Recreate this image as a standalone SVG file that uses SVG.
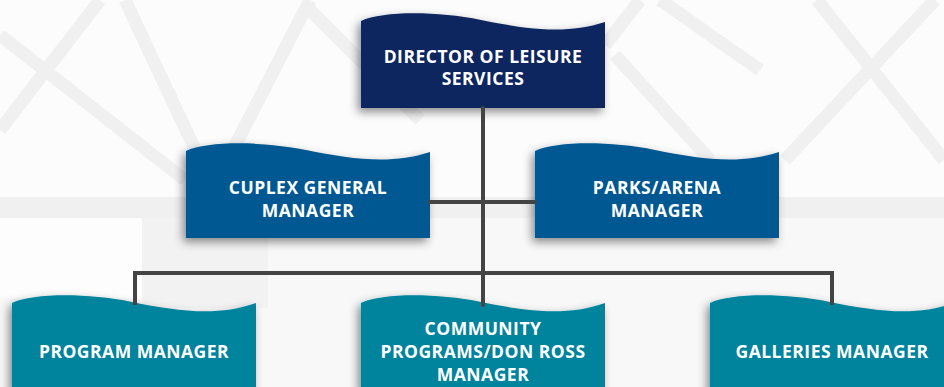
<svg xmlns="http://www.w3.org/2000/svg" width="944" height="387" viewBox="0 0 944 387">
  <defs>
    <filter id="sh" x="-20%" y="-20%" width="140%" height="150%">
      <feDropShadow dx="-3" dy="4" stdDeviation="5" flood-color="#000" flood-opacity="0.45"/>
    </filter>
    <path id="wave" d="M0,8 C22,-2 75,-2 120,7 C165,16 205,22 244,9 V95 H0 Z"/>
    <path id="waveB" d="M0,10 C22,0 75,0 120,9 C165,18 205,24 244,10 V100 H0 Z"/>
  </defs>
  <style>
    .bg-band { stroke: #f0f0f0; stroke-width: 13; fill: none; }
    .conn { stroke: #444; stroke-width: 4; fill: none; stroke-linecap: round; stroke-linejoin: miter; }
    .t { font-family: "Open Sans", "Liberation Sans", sans-serif; font-weight: 700; font-size: 17.5px; letter-spacing: 0.5px; fill: #fff; text-anchor: middle; }
    .navy { fill: #0c2561; }
    .blue { fill: #015893; }
    .teal { fill: #02839c; }
  </style>

  <!-- background -->
  <rect width="944" height="387" fill="#fcfcfc"/>
  <rect x="0" y="218" width="944" height="169" fill="#f8f8f8"/>
  <rect x="142" y="218" width="126" height="90" fill="#f2f2f2"/>
  <rect x="0" y="218" width="142" height="80" fill="#fdfdfd"/>
  <rect x="0" y="197" width="944" height="21" fill="#f0f0f0"/>
  <g class="bg-band">
    <line x1="100" y1="0" x2="0" y2="130"/>
    <line x1="0" y1="35" x2="185" y2="180"/>
    <line x1="125" y1="0" x2="200" y2="160"/>
    <line x1="310" y1="0" x2="225" y2="165"/>
    <line x1="305" y1="5" x2="420" y2="120"/>
    <line x1="640" y1="0" x2="605" y2="45"/>
    <line x1="615" y1="55" x2="710" y2="160"/>
    <line x1="660" y1="0" x2="760" y2="70"/>
    <line x1="817" y1="0" x2="944" y2="160"/>
    <line x1="935" y1="0" x2="785" y2="160"/>
  </g>

  <!-- nodes -->
  <g id="director" transform="translate(361,13)">
    <use href="#wave" class="navy" filter="url(#sh)"/>
    <text class="t" x="122" y="50">DIRECTOR OF LEISURE</text>
    <text class="t" x="122" y="72">SERVICES</text>
  </g>
  <g id="cuplex" transform="translate(186,143)">
    <use href="#wave" class="blue" filter="url(#sh)"/>
    <text class="t" x="122" y="51">CUPLEX GENERAL</text>
    <text class="t" x="122" y="74">MANAGER</text>
  </g>
  <g id="parks" transform="translate(535,143)">
    <use href="#wave" class="blue" filter="url(#sh)"/>
    <text class="t" x="122" y="51">PARKS/ARENA</text>
    <text class="t" x="122" y="74">MANAGER</text>
  </g>
  <g id="program" transform="translate(12,293)">
    <use href="#waveB" class="teal" filter="url(#sh)"/>
    <text class="t" x="122" y="65">PROGRAM MANAGER</text>
  </g>
  <g id="community" transform="translate(361,293)">
    <use href="#waveB" class="teal" filter="url(#sh)"/>
    <text class="t" x="122" y="42">COMMUNITY</text>
    <text class="t" x="122" y="65">PROGRAMS/DON ROSS</text>
    <text class="t" x="122" y="88">MANAGER</text>
  </g>
  <g id="galleries" transform="translate(710,293)">
    <use href="#waveB" class="teal" filter="url(#sh)"/>
    <text class="t" x="122" y="65">GALLERIES MANAGER</text>
  </g>

  <!-- connectors -->
  <g id="connectors" class="conn">
    <path d="M483,108 V305"/>
    <path d="M430,202 H535"/>
    <path d="M135,305 V273 H832 V305" stroke-linecap="butt"/>
  </g>
</svg>
